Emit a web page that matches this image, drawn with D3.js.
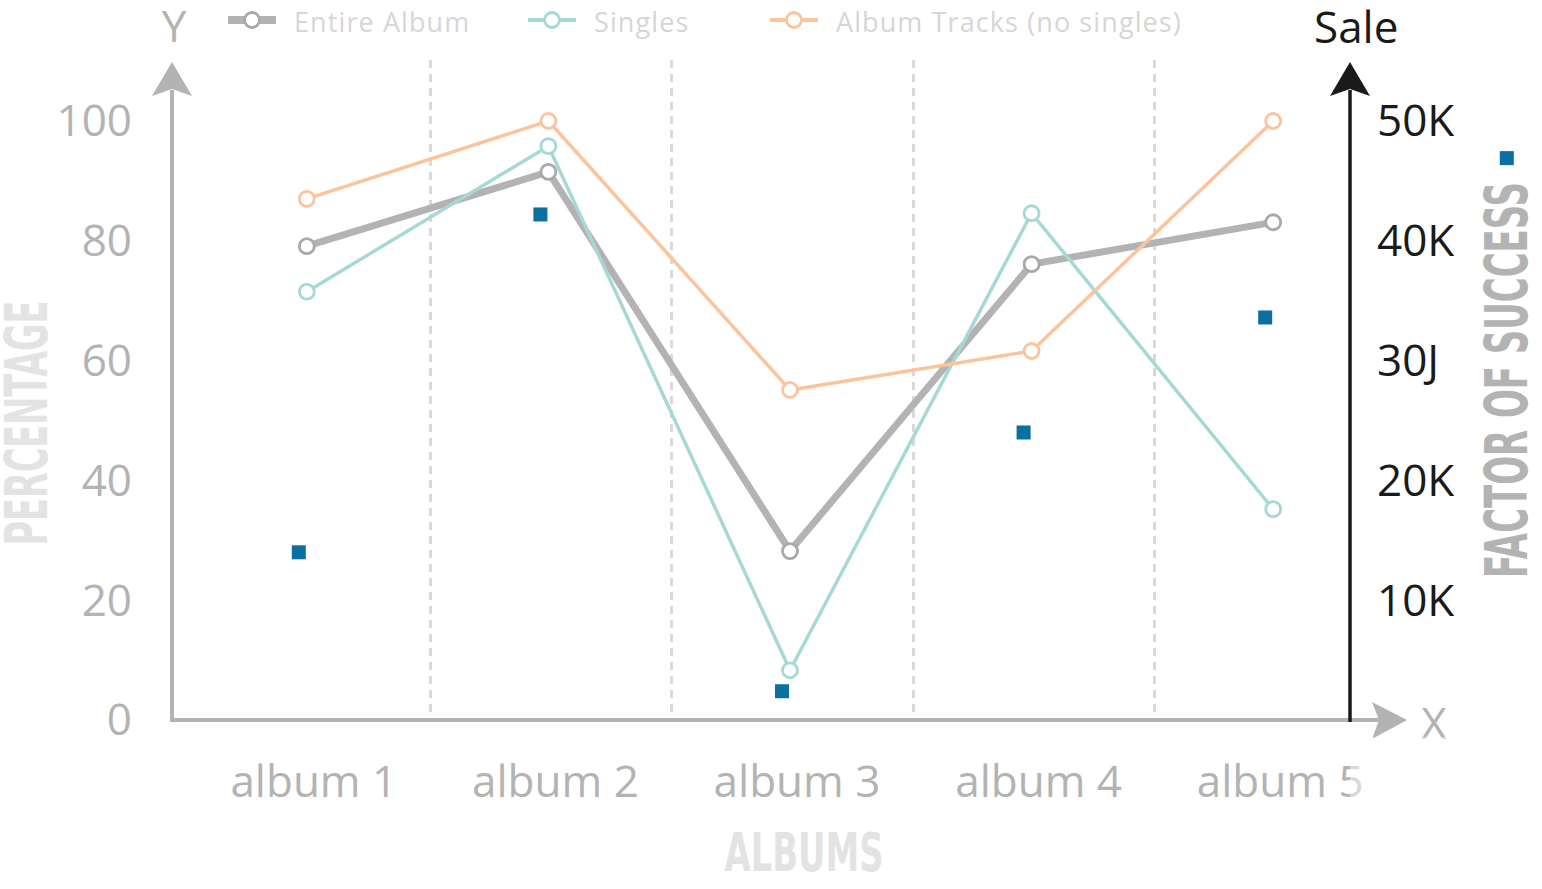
<!DOCTYPE html>
<html>
<head>
<meta charset="utf-8">
<script src="https://cdn.jsdelivr.net/npm/d3@7/dist/d3.min.js"></script>
<style>
  html, body { margin: 0; padding: 0; background: #fff; }
  svg { display: block; }
</style>
</head>
<body>
<svg id="chart" width="1542" height="889"></svg>
<script>
// ---------- DATA ----------
const albums = ["album 1", "album 2", "album 3", "album 4", "album 5"];
const entireAlbum = [79.1, 91.5, 28.2, 76.1, 83.1];
const singles = [71.5, 95.8, 8.3, 84.6, 35.2];
const albumTracks = [87.0, 100, 55.1, 61.6, 100];
const sales = [14000, 42200, 2400, 24000, 33600, 46900];
const percentTicks = [0, 20, 40, 60, 80, 100];
const saleTicks = [10000, 20000, 30000, 40000, 50000];
const saleTickLabels = ["10K", "20K", "30J", "40K", "50K"];
const seriesNames = ["Entire Album", "Singles", "Album Tracks (no singles)"];

// ---------- STYLE ----------
const colors = ["#b3b3b3", "#a6d9d5", "#fcc49d"];
const widths = [7, 3.5, 3.5];
const circleStroke = ["#a9a9a9", "#a6d9d5", "#fcc49d"];
const axisGray = "#b3b3b3";
const black = "#1a1a1a";
const tickFont = "'Open Sans', 'Noto Sans', sans-serif";
const condFont = "'Liberation Sans Narrow', 'DejaVu Sans Condensed', 'Liberation Sans', sans-serif";

const svg = d3.select("#chart");

// ---------- SCALES ----------
const x = d3.scaleBand().domain(albums).range([186, 1394]);
const bw = x.bandwidth();
const cx = d => x(d) + bw / 2;
const xi = d3.scaleLinear().domain([0, albums.length - 1]).range([cx(albums[0]), cx(albums[albums.length - 1])]);
const y = d3.scaleLinear().domain([0, 100]).range([720, 121]);
const ySale = d3.scaleLinear().domain([0, 50000]).range([720, 121]);

const x0 = 172, yTop = 62;

// ---------- GRID (dashed band separators) ----------
svg.append("g").selectAll("line")
  .data(albums.slice(1))
  .join("line")
  .attr("x1", d => Math.round(x(d)) + 2.5).attr("x2", d => Math.round(x(d)) + 2.5)
  .attr("y1", 60).attr("y2", 720)
  .attr("stroke", "#d9d9d9").attr("stroke-width", 3)
  .attr("stroke-dasharray", "8,6");

// ---------- LEFT AXIS ----------
const yAxis = d3.axisLeft(y).tickValues(percentTicks).tickSize(0).tickPadding(40).tickFormat(d3.format("d"));
const gy = svg.append("g").attr("transform", `translate(${x0},0)`).call(yAxis);
gy.select(".domain").remove();
gy.selectAll("text").attr("font-family", tickFont).attr("font-size", 44).attr("fill", axisGray).attr("dy", "0.34em");

// ---------- X AXIS ----------
const xAxis = d3.axisBottom(x).tickSize(0).tickPadding(46);
const gx = svg.append("g").attr("transform", `translate(0,${y(0)})`).call(xAxis);
gx.select(".domain").remove();
gx.selectAll("text").attr("font-family", tickFont).attr("font-size", 44).attr("fill", axisGray).attr("dx", 7);

// ---------- RIGHT AXIS ----------
const xr = 1350;
const rAxis = d3.axisRight(ySale).tickValues(saleTicks).tickSize(0).tickPadding(27)
  .tickFormat((d, i) => saleTickLabels[i]);
const gr = svg.append("g").attr("transform", `translate(${xr},0)`).call(rAxis);
gr.select(".domain").remove();
gr.selectAll("text").attr("font-family", tickFont).attr("font-size", 44).attr("fill", black).attr("dy", "0.34em");

// axis lines
svg.append("line").attr("x1", x0).attr("x2", x0).attr("y1", y(0) + 2).attr("y2", yTop + 28)
  .attr("stroke", axisGray).attr("stroke-width", 4);
svg.append("line").attr("x1", x0 - 2).attr("x2", 1380).attr("y1", y(0)).attr("y2", y(0))
  .attr("stroke", axisGray).attr("stroke-width", 4);
svg.append("line").attr("x1", xr).attr("x2", xr).attr("y1", y(0) + 2).attr("y2", yTop + 28)
  .attr("stroke", black).attr("stroke-width", 3.5);

// arrowheads
function upArrow(px, py, fill) {
  svg.append("path")
    .attr("d", `M${px},${py} L${px + 20},${py + 34} L${px},${py + 27} L${px - 20},${py + 34} Z`)
    .attr("fill", fill);
}
upArrow(x0, yTop, axisGray);
upArrow(xr, yTop, black);
svg.append("path")
  .attr("d", `M1407,${y(0)} L1372,${y(0) - 18} L1379,${y(0)} L1372,${y(0) + 19} Z`)
  .attr("fill", axisGray);

// axis letters
svg.append("text").attr("x", 174).attr("y", 42).attr("text-anchor", "middle")
  .attr("font-family", tickFont).attr("font-size", 44).attr("fill", axisGray).text("Y");
svg.append("text").attr("x", 1434).attr("y", 739).attr("text-anchor", "middle")
  .attr("font-family", tickFont).attr("font-size", 44).attr("fill", axisGray).text("X");
svg.append("text").attr("x", 1314).attr("y", 43)
  .attr("font-family", tickFont).attr("font-size", 44).attr("fill", black).text("Sale");

// condensed titles
svg.append("text").attr("transform", "translate(47,423) rotate(-90)").attr("text-anchor", "middle")
  .attr("font-family", condFont).attr("font-weight", "bold").attr("font-size", 58)
  .attr("fill", "#e3e3e3").attr("textLength", 245).attr("lengthAdjust", "spacingAndGlyphs").text("PERCENTAGE");
svg.append("text").attr("transform", "translate(1527,380) rotate(-90)").attr("text-anchor", "middle")
  .attr("font-family", condFont).attr("font-weight", "bold").attr("font-size", 58)
  .attr("fill", "#b3b3b3").attr("textLength", 396).attr("lengthAdjust", "spacingAndGlyphs").text("FACTOR OF SUCCESS");
svg.append("text").attr("x", 804).attr("y", 871).attr("text-anchor", "middle")
  .attr("font-family", condFont).attr("font-weight", "bold").attr("font-size", 54)
  .attr("fill", "#e3e3e3").attr("textLength", 159).attr("lengthAdjust", "spacingAndGlyphs").text("ALBUMS");

// ---------- LINES ----------
const series = [entireAlbum, singles, albumTracks];
const line = d3.line().x((d, i) => cx(albums[i])).y(d => y(d));
series.forEach((vals, s) => {
  const g = svg.append("g");
  g.append("path").datum(vals).attr("d", line)
    .attr("fill", "none").attr("stroke", colors[s]).attr("stroke-width", widths[s])
    .attr("stroke-linejoin", "round");
  g.selectAll("circle").data(vals).join("circle")
    .attr("cx", (d, i) => cx(albums[i])).attr("cy", d => y(d)).attr("r", 7.5)
    .attr("fill", "#fff").attr("stroke", circleStroke[s]).attr("stroke-width", 2.8);
});

// ---------- SALES SQUARES ----------
const sq = 14;
svg.append("g").selectAll("rect").data(sales).join("rect")
  .attr("x", (d, i) => xi(i) - 8 - sq / 2).attr("y", d => ySale(d) - sq / 2)
  .attr("width", sq).attr("height", sq).attr("fill", "#0a6fa1");

// ---------- LEGEND ----------
const legendX = [228, 528, 770];
const lg = svg.append("g");
seriesNames.forEach((name, s) => {
  const lx = legendX[s];
  lg.append("line").attr("x1", lx).attr("x2", lx + 48).attr("y1", 20).attr("y2", 20)
    .attr("stroke", colors[s]).attr("stroke-width", s === 0 ? 8 : 4);
  lg.append("circle").attr("cx", lx + 24).attr("cy", 20).attr("r", 7.5)
    .attr("fill", "#fff").attr("stroke", circleStroke[s]).attr("stroke-width", 2.8);
  lg.append("text").attr("x", lx + 66).attr("y", 32)
    .attr("font-family", tickFont).attr("font-size", 27).attr("letter-spacing", 1.1)
    .attr("fill", "#d6d6d6").text(name);
});

// faded corner (reference fades content right of the sale axis below the x axis)
svg.append("rect").attr("x", xr).attr("y", 737).attr("width", 200).attr("height", 160)
  .attr("fill", "#fff").attr("opacity", 0.5);
</script>
</body>
</html>
